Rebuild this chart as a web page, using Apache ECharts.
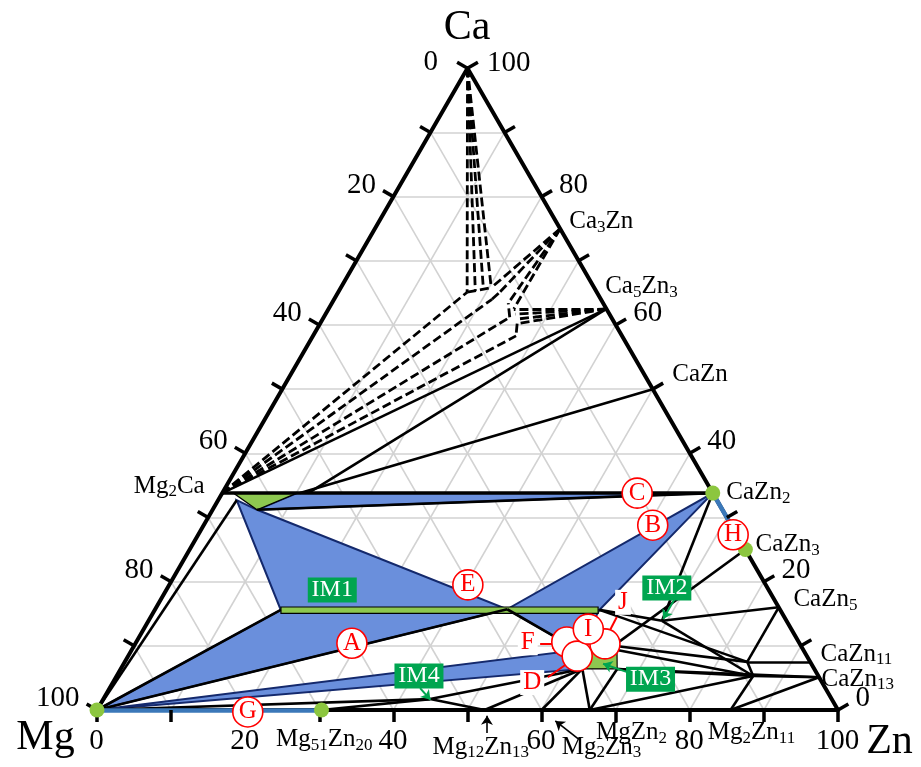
<!DOCTYPE html>
<html>
<head>
<meta charset="utf-8">
<script src="https://cdn.jsdelivr.net/npm/echarts@6/dist/echarts.min.js"></script>
<style>
html,body{margin:0;padding:0;background:#fff;}
#chart{width:921px;height:767px;}
</style>
</head>
<body>
<div id="chart"></div>
<script>
// Mg-Ca-Zn isothermal section. Every composition is [Zn at.%, Ca at.%]; Mg is the balance.

const tickValues = [0, 10, 20, 30, 40, 50, 60, 70, 80, 90, 100];
const tickLabelValues = [0, 20, 40, 60, 80, 100];

// phase points and tie-line end points
const nodes = {
  Mg: [0, 0], Zn: [100, 0], Ca: [0, 100],
  Mg2Ca: [0, 33.8], Mg2Ca_a: [1.5, 33.8], Mg2Ca_b: [10.1, 33.8], Mg2Ca_c: [6.0, 31.2],
  Mg2Ca_d: [2.5, 32.7], Mg2Ca_e: [11.6, 33.8], Mg2Ca_f: [10.5, 33.8],
  Ca3Zn: [25, 75], Ca5Zn3: [37.5, 62.5], CaZn: [50, 50], CaZn2: [66.2, 33.8],
  CaZn3: [75, 25], CaZn5: [84, 16], CaZn11: [92.5, 7.5], CaZn13: [94.9, 5.1],
  Mg51Zn20: [30.3, 0], Mg12Zn13: [52.3, 0], Mg2Zn3: [60, 0], MgZn2: [66.5, 0], Mg2Zn11: [85.5, 0],
  IM1L: [17.0, 15.6], IM1a: [47.5, 15.7], IM1R: [60.0, 15.6],
  IM2: [69.3, 13.9], IM4: [44.1, 1.7],
  IM3a: [60.2, 9.35], IM3b: [65.5, 9.35], IM3c: [67.0, 6.4], IM3d: [62.3, 6.4],
  J0: [64.7, 10.0], N1: [84.0, 7.5], N2: [85.9, 5.3],
  Pa: [17.4, 65.1], Pb: [18.4, 65.3], Pc: [19.4, 65.5], Pd: [20.3, 65.8],
  Q1: [21.8, 65.1], Q2: [23.8, 63.4], Q3: [25.0, 62.5],
  R1: [25.6, 61.7], R2: [26.1, 60.9], R3: [26.6, 60.2],
  M2: [21.3, 64.0], M3: [25.1, 61.2], M4: [27.4, 58.3]
};

// three-phase / two-phase fields (filled blue)
const blueFields = {
  A: ['Mg', 'IM1L', 'IM1a'],
  B: ['IM1a', 'IM1R', 'CaZn2'],
  C: ['Mg2Ca_b', 'CaZn2', 'Mg2Ca_c'],
  E: ['Mg2Ca_d', 'Mg2Ca_c', 'IM1a', 'IM1L'],
  F: ['IM1a', 'IM1R', 'IM3a'],
  D: ['Mg', 'IM3a', 'IM3d']
};

// single-phase areas (filled green)
const greenPhases = {
  Mg2Ca: ['Mg2Ca_a', 'Mg2Ca_b', 'Mg2Ca_c'],
  IM1: [[16.8, 16.05], [59.6, 16.05], [60.1, 15.05], [17.3, 15.05]],
  IM3: ['IM3a', 'IM3b', 'IM3c', 'IM3d']
};

const tieLines = [
  ['Mg2Ca', 'Ca5Zn3'], ['Mg2Ca_e', 'Ca5Zn3'], ['Mg2Ca_f', 'CaZn'],
  ['Mg2Ca_c', 'CaZn2'],
  ['Mg', 'Mg2Ca_d'], ['Mg', 'IM1L'], ['Mg', 'IM1a'], ['IM1a', 'IM3a'],
  ['Mg', 'IM4'], ['Mg51Zn20', 'IM4'], ['IM4', 'Mg12Zn13'], ['IM4', 'IM3d'],
  ['Mg12Zn13', 'IM3d'], ['Mg2Zn3', 'IM3d'], ['MgZn2', 'IM3d'], ['MgZn2', 'IM3c'],
  ['CaZn2', 'IM2'], ['IM1R', 'IM2'], ['IM2', 'CaZn5'], ['IM2', 'N2'],
  ['CaZn3', 'J0'], ['CaZn5', 'N1'], ['N1', 'CaZn11'], ['N2', 'CaZn13'], ['N1', 'N2'],
  ['IM1R', 'N1'], ['J0', 'N1'], ['IM3b', 'N2'], ['IM3c', 'N2'], ['IM3c', 'CaZn13'],
  ['MgZn2', 'N2'], ['Mg2Zn11', 'CaZn13'], ['Mg2Zn11', 'N2']
];
const heavyLines = [['Mg2Ca', 'CaZn2']];

// metastable / estimated boundaries in the Ca-rich corner
const dashedLines = [
  ['Ca', 'Pa'], ['Ca', 'Pb'], ['Ca', 'Pc'], ['Ca', 'Pd'],
  ['Ca3Zn', 'Pd'], ['Ca3Zn', 'Q1'], ['Ca3Zn', 'Q2'], ['Ca3Zn', 'Q3'],
  ['Ca5Zn3', 'Q3'], ['Ca5Zn3', 'R1'], ['Ca5Zn3', 'R2'], ['Ca5Zn3', 'R3'],
  ['Mg2Ca', 'Pa'], ['Mg2Ca', 'M2'], ['Mg2Ca', 'M3'], ['Mg2Ca', 'M4'],
  ['Pa', 'Pd'], ['M2', 'Q1'], ['M3', 'Q2'], ['R3', 'M4']
];

// two-phase fields drawn as single lines along the binary edges (G, H)
const binaryFields = [['Mg', 'Mg51Zn20'], ['CaZn2', 'CaZn3']];
const phaseDots = ['Mg', 'Mg51Zn20', 'CaZn2', 'CaZn3'];

// compound names and where their names sit
const compoundNames = [
  '{n|Mg}{s|2}{n|Ca}', '{n|Ca}{s|3}{n|Zn}', '{n|Ca}{s|5}{n|Zn}{s|3}', '{n|CaZn}',
  '{n|CaZn}{s|2}', '{n|CaZn}{s|3}', '{n|CaZn}{s|5}', '{n|CaZn}{s|11}', '{n|CaZn}{s|13}',
  '{n|Mg}{s|51}{n|Zn}{s|20}', '{n|Mg}{s|12}{n|Zn}{s|13}', '{n|Mg}{s|2}{n|Zn}{s|3}',
  '{n|MgZn}{s|2}', '{n|Mg}{s|2}{n|Zn}{s|11}'
];
const compoundNameAt = [
  [-2.8, 34.8], [25.8, 76.0], [35.7, 65.9], [51.6, 52.2],
  [68.1, 33.8], [76.1, 25.7], [85.5, 17.1], [93.4, 8.6], [95.5, 4.7],
  [33.1, -4.7], [54.8, -5.9], [71.1, -5.9], [74.0, -3.6], [90.2, -3.6]
];
const compoundNameAlign = ['right', 'left', 'left', 'left', 'left', 'left', 'left', 'left', 'left',
  'center', 'center', 'center', 'center', 'center'];

// field letters
const fieldLetters = ['A', 'B', 'C', 'E', 'G', 'H'];
const fieldLetterAt = [[29.2, 10.4], [60.6, 28.8], [56.0, 33.8], [40.3, 19.5], [20.5, -0.3], [72.2, 27.3]];
const smallFieldLetters = ['F', 'J', 'D', 'I'];
const smallFieldCircleAt = [[58.1, 10.6], [63.4, 10.3], [60.6, 8.4], [60.0, 12.6]];
const smallFieldTextAt = [[53.0, 10.4], [62.7, 16.7], [56.7, 4.2]];
const smallFieldArrows = [
  [[54.6, 10.4], [57.4, 10.4]],
  [[62.9, 14.5], [63.1, 10.6]],
  [[58.3, 5.1], [60.6, 8.3]]
];

// intermetallic tags
const imNames = ['IM1', 'IM2', 'IM3', 'IM4'];
const imTagAt = [[22.4, 18.7], [67.4, 19.0], [72.3, 4.8], [40.8, 5.3]];
const imArrows = [
  [[69.3, 17.5], [69.3, 14.2]],
  [[68.6, 5.9], [64.7, 7.2]],
  [[41.9, 3.4], [44.2, 1.6]]
];
const compoundArrows = [
  [[54.4, -3.6], [53.1, -0.9]],
  [[67.2, -4.5], [62.7, -1.7]]
];

const cornerNames = ['Ca', 'Mg', 'Zn'];

// ---------- geometry ----------
const H = Math.sqrt(3) / 2;
function xy(p) { return [p[0] + p[1] / 2, p[1] * H]; }
function pt(n) { return typeof n === 'string' ? nodes[n] : n; }
function seg(pair) { return { coords: [xy(pt(pair[0])), xy(pt(pair[1]))] }; }

// triangle side = 741 px, Mg corner at (97, 710)
const PX = 7.41, OX = 97, OY = 710, W = 921, HT = 767;
const TICK = 12 / PX;
const SERIF = 'Liberation Serif';

// light grid every 10 %
const gridSegs = [];
for (let k = 10; k < 100; k += 10) {
  gridSegs.push(seg([[0, k], [100 - k, k]]));
  gridSegs.push(seg([[k, 0], [k, 100 - k]]));
  gridSegs.push(seg([[100 - k, 0], [0, 100 - k]]));
}

const outline = [seg(['Mg', 'Zn']), seg(['Zn', 'Ca']), seg(['Ca', 'Mg'])];

const tickSegs = [];
tickValues.forEach(v => {
  const b = xy([v, 0]);
  tickSegs.push({ coords: [b, [b[0], b[1] - TICK]] });
  const l = xy([0, 100 - v]);
  tickSegs.push({ coords: [l, [l[0] - TICK * H, l[1] + TICK * 0.5]] });
  const r = xy([100 - v, v]);
  tickSegs.push({ coords: [r, [r[0] + TICK * H, r[1] + TICK * 0.5]] });
});

const numStyle = { fontFamily: SERIF, fontSize: 29, color: '#000' };
const tickLabelData = [];
tickLabelValues.forEach(v => {
  tickLabelData.push({ value: xy([v, 0]), label: { formatter: String(v), position: [0, 32], align: 'center', verticalAlign: 'middle' } });
  tickLabelData.push({ value: xy([0, 100 - v]), label: { formatter: String(v), position: v === 0 ? [-29, -5] : [-17, -11], align: 'right', verticalAlign: 'middle' } });
  tickLabelData.push({ value: xy([100 - v, v]), label: { formatter: String(v), position: v === 100 ? [20, -4] : [18, -11], align: 'left', verticalAlign: 'middle' } });
});

const cornerOffsets = [[0, -40], [-51, 28], [52, 32]];
const cornerData = cornerNames.map((n, i) => ({
  value: xy(nodes[n]), label: { formatter: n, position: cornerOffsets[i], align: 'center', verticalAlign: 'middle' }
}));

const richName = {
  n: { fontFamily: SERIF, fontSize: 25, color: '#000', lineHeight: 28 },
  s: { fontFamily: SERIF, fontSize: 17, color: '#000', lineHeight: 15, verticalAlign: 'bottom' }
};

function polySeries(fields, style) {
  const list = Object.values(fields);
  return {
    type: 'custom', coordinateSystem: 'cartesian2d', silent: true,
    data: list.map(p => xy(pt(p[0]))),
    renderItem: (params, api) => ({
      type: 'polygon',
      shape: { points: list[params.dataIndex].map(n => api.coord(xy(pt(n)))) },
      style: style
    })
  };
}

function lineSeries(data, style, extra) {
  return Object.assign({
    type: 'lines', coordinateSystem: 'cartesian2d', silent: true,
    symbol: 'none', lineStyle: Object.assign({ opacity: 1 }, style), data: data
  }, extra || {});
}

function labelSeries(data, common, extra) {
  return Object.assign({
    type: 'scatter', silent: true, symbolSize: 1,
    itemStyle: { color: 'rgba(0,0,0,0)', opacity: 1 },
    label: Object.assign({ show: true, opacity: 1 }, common),
    data: data
  }, extra || {});
}

const BLUE = '#6a8fdc', NAVY = '#14296c', GREEN = '#8dc850', TAG = '#00a550', RED = '#ff0000';

const option = {
  animation: false,
  grid: { left: 0, top: 0, right: 0, bottom: 0 },
  xAxis: { type: 'value', min: -OX / PX, max: (W - OX) / PX, show: false },
  yAxis: { type: 'value', min: -(HT - OY) / PX, max: OY / PX, show: false },
  series: [
    lineSeries(gridSegs, { color: '#d2d2d2', width: 1.6 }),
    polySeries(blueFields, { fill: BLUE, stroke: NAVY, lineWidth: 2 }),
    polySeries(greenPhases, { fill: GREEN, stroke: '#000', lineWidth: 1.2 }),
    lineSeries(tieLines.map(seg), { color: '#000', width: 2.6 }),
    lineSeries(heavyLines.map(seg), { color: '#000', width: 3.6 }),
    lineSeries(dashedLines.map(seg), { color: '#000', width: 2.8, type: [9, 4] }),
    lineSeries(outline, { color: '#000', width: 4, cap: 'round', join: 'round' }),
    lineSeries(binaryFields.map(seg), { color: '#3b78b9', width: 4.5 }),
    lineSeries(tickSegs, { color: '#000', width: 3.5 }),
    {
      type: 'scatter', silent: true, symbolSize: 15,
      itemStyle: { color: '#8cc63f', opacity: 1 },
      data: phaseDots.map(n => xy(nodes[n]))
    },
    labelSeries(tickLabelData, numStyle),
    labelSeries(cornerData, { fontFamily: SERIF, fontSize: 42, color: '#000' }),
    labelSeries(compoundNames.map((t, i) => ({
      value: xy(compoundNameAt[i]),
      label: { formatter: t, align: compoundNameAlign[i] }
    })), { position: [0, 0], verticalAlign: 'middle', rich: richName }),
    lineSeries(compoundArrows.map(a => ({ coords: a.map(xy) })), { color: '#000', width: 1.6 },
      { symbol: ['none', 'arrow'], symbolSize: [0, 9] }),
    lineSeries(imArrows.map(a => ({ coords: a.map(xy) })), { color: TAG, width: 2 },
      { symbol: ['none', 'arrow'], symbolSize: [0, 9] }),
    {
      type: 'scatter', silent: true, symbol: 'rect', symbolSize: [49, 25],
      itemStyle: { color: TAG, opacity: 1 },
      label: { show: true, position: 'inside', fontFamily: SERIF, fontSize: 24, color: '#fff', formatter: p => imNames[p.dataIndex] },
      data: imTagAt.map(xy)
    },
    {
      type: 'scatter', silent: true, symbol: 'circle', symbolSize: 30,
      itemStyle: { color: '#fff', borderColor: RED, borderWidth: 1.6, opacity: 1 },
      label: { show: true, position: 'inside', fontFamily: SERIF, fontSize: 25, color: RED, formatter: p => fieldLetters[p.dataIndex] },
      data: fieldLetterAt.map(xy)
    },
    {
      type: 'scatter', silent: true, symbol: 'circle', symbolSize: 30,
      itemStyle: { color: '#fff', borderColor: RED, borderWidth: 1.6, opacity: 1 },
      label: { show: true, position: 'inside', fontFamily: SERIF, fontSize: 25, color: RED,
        formatter: p => smallFieldLetters[p.dataIndex] === 'I' ? 'I' : '' },
      data: smallFieldCircleAt.map(xy)
    },
    labelSeries(smallFieldTextAt.map((p, i) => ({ value: xy(p), label: { formatter: smallFieldLetters[i] } })),
      { position: [0, 0], align: 'center', verticalAlign: 'middle', fontFamily: SERIF, fontSize: 25, color: RED,
        backgroundColor: '#fff', padding: [0, 3] }),
    lineSeries(smallFieldArrows.map(a => ({ coords: a.map(xy) })), { color: RED, width: 2 },
      { symbol: ['none', 'arrow'], symbolSize: [0, 9] })
  ]
};

const chart = echarts.init(document.getElementById('chart'));
chart.setOption(option);
</script>
</body>
</html>
